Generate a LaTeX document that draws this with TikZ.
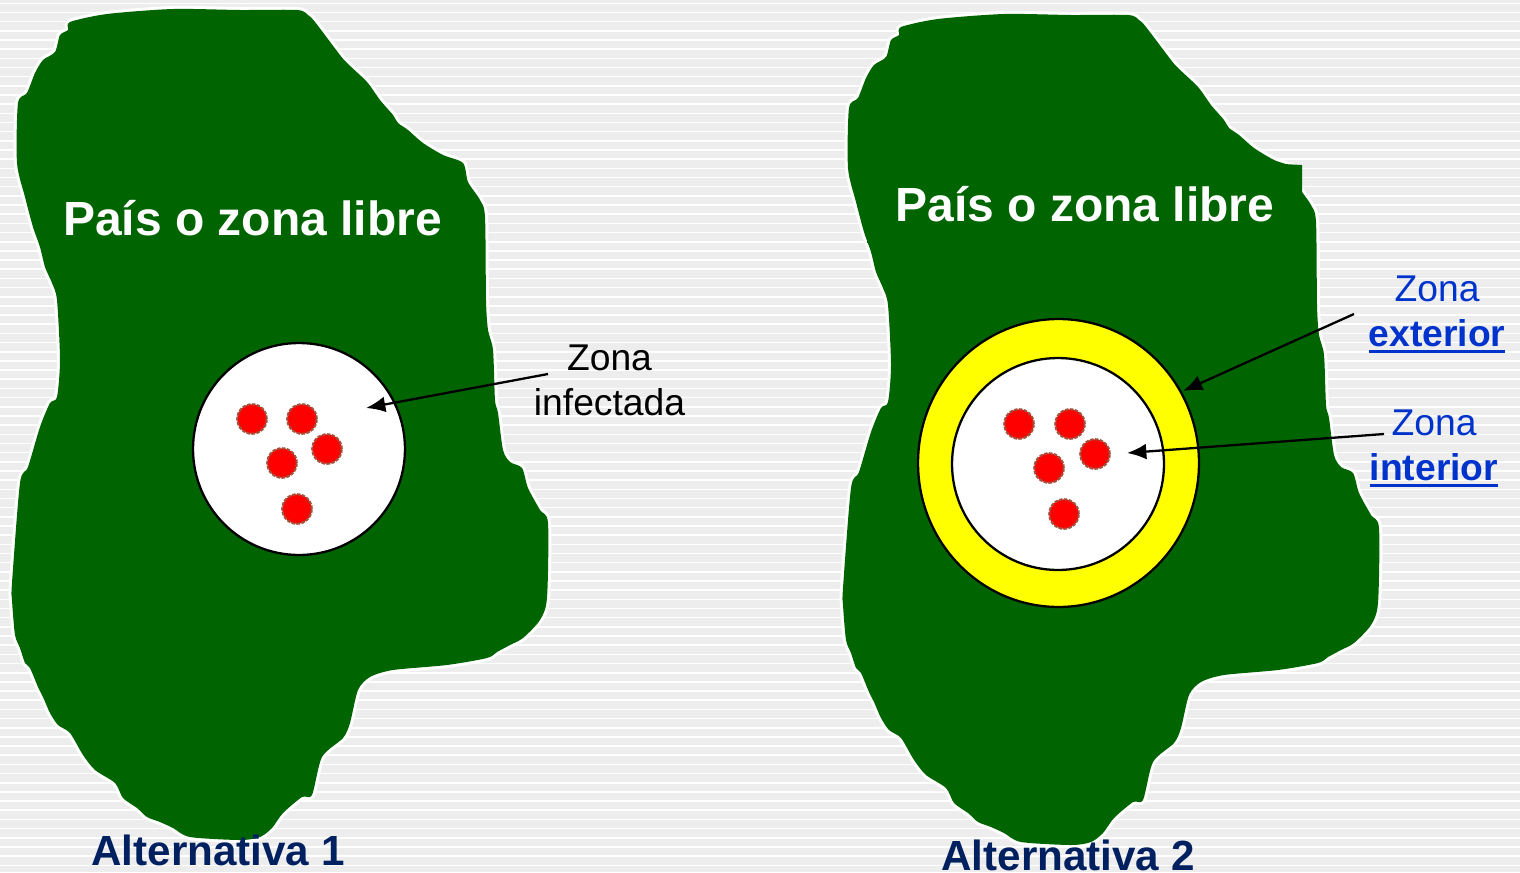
\documentclass[tikz,border=0pt]{standalone}
\usepackage{fontspec}
\setmainfont{Liberation Sans}
\usetikzlibrary{arrows.meta,shapes.geometric}

\definecolor{zonegreen}{HTML}{006400}
\definecolor{stripegray}{HTML}{EDEDED}
\definecolor{labelblue}{HTML}{0033CC}
\definecolor{titleblue}{HTML}{002060}
\definecolor{spotborder}{HTML}{A0523D}
\definecolor{ringyellow}{HTML}{FFFF00}

\newcommand{\zoneul}[1]{\setbox0\hbox{#1}\rlap{\rule[-3.7pt]{\wd0}{1.7pt}}\box0}
\newcommand{\countryoutline}{plot[smooth cycle, tension=0.45] coordinates {
(173,9) (240,10) (297,10) (308,15) (315,22) (340,55) (347,63) (367,82) (380,100) (393,115) (398,123) (408,130)
(423,143) (443,155) (463,163) (468,182) (480,200) (485,217) (486,300) (488,330) (493,350) (495,400) (498,413)
(503,450) (510,462) (522,468) (528,488) (540,510) (548,523) (547,598) (540,620) (523,638) (510,645) (497,652) (487,658)
(447,665) (393,670) (370,677) (358,690) (350,723) (343,738) (322,757) (312,795) (302,797) (283,813) (272,828)
(260,837) (240,840) (190,837) (173,828) (160,822) (147,817) (137,808) (123,798) (115,783) (95,770) (83,755) (70,733)
(58,725) (50,713) (43,697) (38,687) (30,668) (25,663) (20,648) (15,635) (12,600) (12,583) (20,483) (28,467) (40,427)
(50,403) (57,397) (60,360) (57,300) (52,283) (45,267)
(40,247) (33,227) (25,197) (17,163) (18,103) (27,93) (35,73) (43,60) (55,52) (60,35) (68,30) (70,22) (107,14)}}

\tikzset{
  countryshape/.style={fill=zonegreen, preaction={draw=white, line width=3.4pt, line join=round}},
  redspot/.style={circle, fill=red, draw=spotborder, line width=1.2pt, dash pattern=on 2pt off 0.8pt, minimum size=0.59cm, inner sep=0},
  whitezone/.style={circle, fill=white, draw=black, line width=1.3pt, minimum size=4.24cm, inner sep=0},
  yellowzone/.style={ellipse, fill=ringyellow, draw=black, line width=1.3pt, minimum width=5.62cm, minimum height=5.76cm, inner sep=0},
  pointer/.style={-{Latex[length=11pt,width=9pt]}, line width=1.3pt},
  freetitle/.style={anchor=base, inner sep=0, text=white, font=\fontsize{27.3}{32}\selectfont\bfseries},
  alttitle/.style={anchor=base, inner sep=0, text=titleblue, font=\fontsize{24}{28}\selectfont\bfseries},
  zonelabel/.style={anchor=base, inner sep=0, align=center, font=\fontsize{21.2}{25.6}\selectfont}
}

\begin{document}
\begin{tikzpicture}[x=0.02cm,y=-0.02cm]
\useasboundingbox (0,0) rectangle (1520,872);

\fill[stripegray] (0,0) rectangle (1520,872);
\foreach \k in {0,...,94}
  \draw[white, line width=0.9pt] (0,{3.3+9.17*\k}) -- (1520,{3.3+9.17*\k});

% left country
\path[countryshape] \countryoutline;
\node[freetitle] (free1) at (252.5,235) {País o zona libre};
\node[whitezone] (zone1) at (299,449) {};
\node[redspot] (spot1a) at (252,419) {};
\node[redspot] (spot1b) at (302,419) {};
\node[redspot] (spot1c) at (327,449) {};
\node[redspot] (spot1d) at (282,463) {};
\node[redspot] (spot1e) at (297,509) {};
\node[zonelabel] (label1) at (609.5,415) {Zona\\infectada};
\coordinate (tail1) at (548,374);
\coordinate (tip1) at (366,408);
\draw[pointer] (tail1) -- (tip1);
\node[alttitle] (alt1) at (218,865) {Alternativa 1};

% right country
\begin{scope}[shift={(831,5)}]
\path[countryshape] \countryoutline;
\end{scope}
\fill[zonegreen] (1283,164) -- (1302,165) -- (1302,192) -- (1296,190) -- cycle;
\fill[zonegreen] (867,236) -- (867,243) -- (873,243) -- (873,236) -- cycle;
\node[freetitle] (free2) at (1085,221) {País o zona libre};
\node[yellowzone] (zone2out) at (1058.5,463) {};
\node[whitezone] (zone2in) at (1058,464) {};
\node[redspot] (spot2a) at (1019,424) {};
\node[redspot] (spot2b) at (1070,424) {};
\node[redspot] (spot2c) at (1095,454) {};
\node[redspot] (spot2d) at (1049,468) {};
\node[redspot] (spot2e) at (1064,514) {};
\node[zonelabel, text=labelblue] (label2) at (1437,346) {Zona\\\zoneul{\textbf{exterior}}};
\node[zonelabel, text=labelblue] (label3) at (1434,480) {Zona\\\zoneul{\textbf{interior}}};
\coordinate (tail2) at (1354,314);
\coordinate (tip2) at (1183,391);
\coordinate (tail3) at (1384,434);
\coordinate (tip3) at (1127,453);
\draw[pointer] (tail2) -- (tip2);
\draw[pointer] (tail3) -- (tip3);
\node[alttitle] (alt2) at (1068,870) {Alternativa 2};

\end{tikzpicture}
\end{document}
